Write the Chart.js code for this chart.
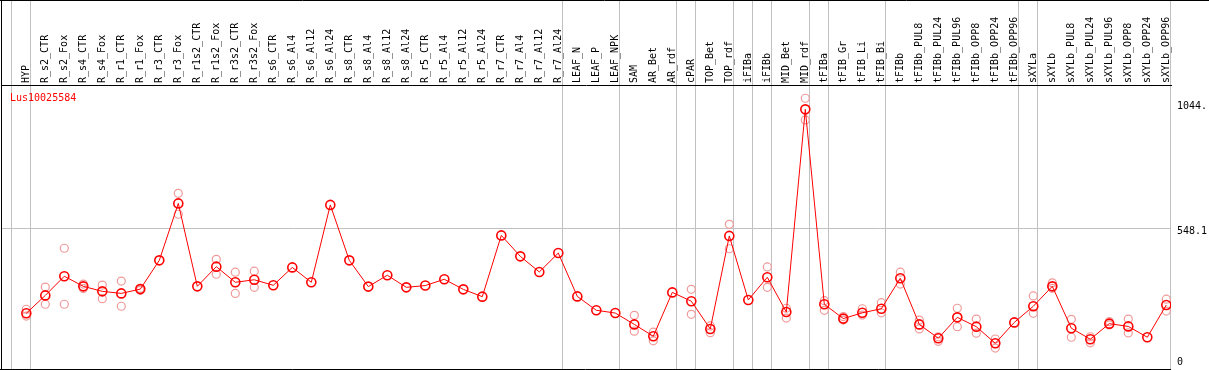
<!DOCTYPE html>
<html><head><meta charset="utf-8">
<script src="https://cdn.jsdelivr.net/npm/chart.js@4/dist/chart.umd.min.js"></script>
<style>html,body{margin:0;padding:0;background:#fff;overflow:hidden}canvas{display:block}</style>
</head><body>
<canvas id="c" width="1209" height="370"></canvas>
<script>
const geneLabel = 'Lus10025584';
const categories = ['HYP','R_s2_CTR','R_s2_Fox','R_s4_CTR','R_s4_Fox','R_r1_CTR','R_r1_Fox','R_r3_CTR','R_r3_Fox','R_r1s2_CTR','R_r1s2_Fox','R_r3s2_CTR','R_r3s2_Fox','R_s6_CTR','R_s6_Al4','R_s6_Al12','R_s6_Al24','R_s8_CTR','R_s8_Al4','R_s8_Al12','R_s8_Al24','R_r5_CTR','R_r5_Al4','R_r5_Al12','R_r5_Al24','R_r7_CTR','R_r7_Al4','R_r7_Al12','R_r7_Al24','LEAF_N','LEAF_P','LEAF_NPK','SAM','AR_Bet','AR_rdf','cPAR','TOP_Bet','TOP_rdf','iFIBa','iFIBb','MID_Bet','MID_rdf','tFIBa','tFIB_Gr','tFIB_Li','tFIB_Bi','tFIBb','tFIBb_PUL8','tFIBb_PUL24','tFIBb_PUL96','tFIBb_OPP8','tFIBb_OPP24','tFIBb_OPP96','sXYLa','sXYLb','sXYLb_PUL8','sXYLb_PUL24','sXYLb_PUL96','sXYLb_OPP8','sXYLb_OPP24','sXYLb_OPP96'];
const meanValues = [211,282,358,318,298,290,307,421,647,318,396,334,344,322,393,334,641,421,317,362,314,321,346,306,277,520,437,375,450,278,223,212,167,120,294,259,149,518,264,354,216,1020,247,190,213,229,350,167,112,195,158,92,175,239,318,152,108,170,159,116,244];
const repHigh = [227,315,469,327,323,339,310,null,687,null,425,374,378,null,null,null,null,null,null,null,null,null,null,null,null,null,null,null,null,null,null,null,203,136,null,306,161,564,null,395,231,1064,261,198,229,253,374,184,118,231,188,109,null,280,332,187,118,178,188,null,267];
const repLow = [200,247,247,309,269,239,302,null,604,null,366,290,314,null,null,null,null,null,null,null,null,null,null,null,null,null,null,null,null,null,null,null,140,102,null,207,134,467,null,314,192,978,223,184,204,213,327,149,100,158,132,73,null,211,310,116,94,165,133,null,220];
const groupStarts = [0,1,29,32,35,36,38,39,40,42,43,46,53,54,61];
const yTickValues = [0, 548.1, 1044];
const yTickLabels = [['0',''], '548.1', '1044.'];

const X_MIN = -1.3316, X_MAX = 60.247;
const SEP_SHIFT = 15.3 / 19;
const headFont = {family: 'DejaVu Sans Mono', size: 10, lineHeight: 1.2};
const yFont = {family: 'DejaVu Sans Mono', size: 10, lineHeight: 1.6};

const toPts = arr => arr.map((v, i) => (v === null ? null : {x: i, y: v})).filter(p => p);
const noPad = s => { s.paddingLeft = 0; s.paddingRight = 0; s.paddingTop = 0; s.paddingBottom = 0; };

const framePlugin = {
  id: 'frame',
  afterDraw(chart) {
    const ctx = chart.ctx;
    ctx.save();
    ctx.strokeStyle = '#000';
    ctx.lineWidth = 1;
    ctx.beginPath();
    ctx.moveTo(0, 0.5); ctx.lineTo(chart.width, 0.5);
    ctx.moveTo(1.5, 0); ctx.lineTo(1.5, chart.height);
    ctx.moveTo(0, 369.5); ctx.lineTo(chart.chartArea.right, 369.5);
    ctx.stroke();
    ctx.fillStyle = '#ff0000';
    ctx.font = '10px "DejaVu Sans Mono"';
    ctx.textBaseline = 'middle';
    ctx.textAlign = 'left';
    ctx.fillText(geneLabel, chart.chartArea.left + 9, chart.chartArea.top + 13);
    ctx.restore();
  }
};

new Chart(document.getElementById('c'), {
  type: 'line',
  data: {
    datasets: [
      {
        data: toPts(meanValues), order: 0,
        borderColor: '#ff0000', borderWidth: 1, tension: 0,
        pointRadius: 4.5, pointBorderWidth: 1.6,
        pointBorderColor: '#ff0000', pointBackgroundColor: 'rgba(0,0,0,0)'
      },
      {
        data: toPts(repHigh), order: 1, showLine: false,
        pointRadius: 4, pointBorderWidth: 1.2,
        pointBorderColor: '#f09a9a', pointBackgroundColor: 'rgba(0,0,0,0)'
      },
      {
        data: toPts(repLow), order: 1, showLine: false,
        pointRadius: 4, pointBorderWidth: 1.2,
        pointBorderColor: '#f09a9a', pointBackgroundColor: 'rgba(0,0,0,0)'
      }
    ]
  },
  options: {
    responsive: false, animation: false,
    devicePixelRatio: 1,
    layout: {autoPadding: false, padding: {left: 1, right: 0, top: 0, bottom: 1}},
    plugins: {legend: {display: false}, tooltip: {enabled: false}},
    scales: {
      x: {
        type: 'linear', min: X_MIN, max: X_MAX, display: false,
        ticks: {display: false},
        afterFit: s => { s.height = 0; noPad(s); }
      },
      xTop: {
        type: 'linear', position: 'top', min: X_MIN, max: X_MAX, weight: 10,
        afterBuildTicks: s => { s.ticks = categories.map((c, i) => ({value: i})); },
        afterFit: s => { s.height = 85; noPad(s); },
        ticks: {
          autoSkip: false, minRotation: 90, maxRotation: 90, padding: 2, labelOffset: 12,
          stepSize: 1, maxTicksLimit: 1000,
          font: headFont, color: '#000',
          callback: (v, i) => categories[i]
        },
        grid: {display: false, drawTicks: false},
        border: {display: false}
      },
      xSep: {
        type: 'linear', position: 'top', min: X_MIN, max: X_MAX, weight: 0,
        afterBuildTicks: s => { s.ticks = groupStarts.map(k => ({value: k - SEP_SHIFT})); },
        afterFit: s => { s.height = 0; noPad(s); },
        ticks: {display: false, stepSize: 1, maxTicksLimit: 1000},
        grid: {display: true, color: '#c0c0c0', lineWidth: 1, drawOnChartArea: true, drawTicks: true, tickLength: 85},
        border: {display: true, color: '#000', width: 1}
      },
      y: {
        type: 'linear', position: 'right', min: -9.92, max: 1116.6,
        afterBuildTicks: s => { s.ticks = yTickValues.map(v => ({value: v})); },
        afterFit: s => { s.width = 38; noPad(s); },
        ticks: {
          padding: 6, labelOffset: 3.5, font: yFont, color: '#000',
          callback: (v, i) => yTickLabels[i]
        },
        grid: {
          drawTicks: false, lineWidth: 1,
          color: ctx => (ctx.tick && ctx.tick.value === 548.1 ? '#c0c0c0' : 'rgba(0,0,0,0)')
        },
        border: {display: false}
      }
    }
  },
  plugins: [framePlugin]
});
</script>
</body></html>
